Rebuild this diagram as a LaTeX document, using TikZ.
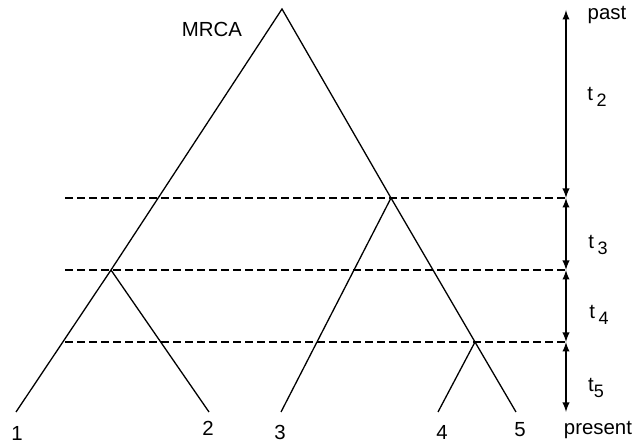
\documentclass[tikz,border=0pt]{standalone}
\usepackage{fontspec}
\setmainfont{Liberation Sans}
\usetikzlibrary{arrows}
\usetikzlibrary{math}

\tikzset{
lab/.style={font=\fontsize{10.2}{12}\selectfont, inner sep=0pt},
level/.style={dashed, dash pattern=on 4pt off 2pt},
}

\begin{document}
\begin{tikzpicture}[x=0.5pt, y=-0.5pt, line width=0.65pt]
\tikzmath{
\ya=10;
\yb=198;
\yc=270;
\yd=342;
\ye=412;
\ax=566;
\dx=65;
}
\useasboundingbox (0,0) rectangle (644,443);

%tree
\coordinate (mrca) at (282,9);
\coordinate (n3) at (391,\yb);
\coordinate (n12) at (111,\yc);
\coordinate (n45) at (475,\yd);
\coordinate (l1) at (16,\ye);
\coordinate (l2) at (209,\ye);
\coordinate (l3) at (281,\ye);
\coordinate (l4) at (438,\ye);
\coordinate (l5) at (516,\ye);
\draw (l1) -- (n12) -- (mrca) -- (n3) -- (n45) -- (l5);
\draw (n12) -- (l2);
\draw (n3) -- (l3);
\draw (n45) -- (l4);

%time axis
\coordinate (a0) at (\ax,\ya);
\coordinate (a1) at (\ax,\yb);
\coordinate (a2) at (\ax,\yc);
\coordinate (a3) at (\ax,\yd);
\coordinate (a4) at (\ax,\ye);
\draw[latex-latex] (a0) -- (a1);
\draw[latex-latex] (a1) -- (a2);
\draw[latex-latex] (a2) -- (a3);
\draw[latex-latex] (a3) -- (a4);

%levels
\coordinate (d1) at (\dx,\yb);
\coordinate (d2) at (\dx,\yc);
\coordinate (d3) at (\dx,\yd);
\draw[level] (d1) -- (a1);
\draw[level] (d2) -- (a2);
\draw[level] (d3) -- (a3);

%labels
\node[lab] (mrcalab) at (212,29) {MRCA};
\node[lab] (past) at (607,15) {past};
\node[lab] (present) at (598,430) {present};
\node[lab] (t2) at (597,97) {t\,\raisebox{-0.6ex}{\small 2}};
\node[lab] (t3) at (598,245) {t\,\raisebox{-0.6ex}{\small 3}};
\node[lab] (t4) at (599,315) {t\,\raisebox{-0.6ex}{\small 4}};
\node[lab] (t5) at (596,388) {t\raisebox{-0.6ex}{\small 5}};
\node[lab] (n1) at (17,433) {1};
\node[lab] (n2) at (208,428) {2};
\node[lab] (n3lab) at (280,432) {3};
\node[lab] (n4) at (442,432) {4};
\node[lab] (n5) at (520,430) {5};

\end{tikzpicture}
\end{document}
